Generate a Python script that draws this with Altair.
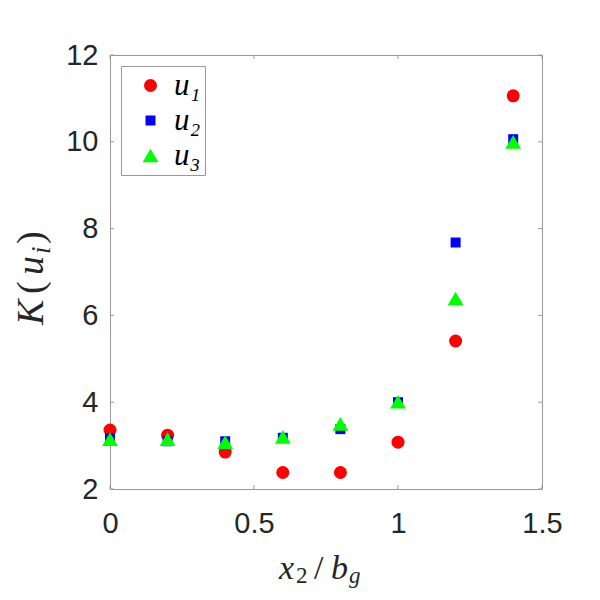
import altair as alt
import pandas as pd

# ---- data ----
x_vals = [0.0, 0.2, 0.4, 0.6, 0.8, 1.0, 1.2, 1.4]
u1 = [3.36, 3.24, 2.85, 2.38, 2.38, 3.08, 5.41, 11.06]
u2 = [3.17, 3.10, 3.10, 3.18, 3.38, 4.00, 7.68, 10.06]
u3 = [3.15, 3.15, 3.08, 3.20, 3.50, 4.01, 6.39, 10.00]
series_names = ["u\u2081", "u\u2082", "u\u2083"]
x_ticks = [0, 0.5, 1, 1.5]
y_ticks = [2, 4, 6, 8, 10, 12]

rows = []
for name, vals in zip(series_names, [u1, u2, u3]):
    for xv, yv in zip(x_vals, vals):
        rows.append({"x": xv, "K": yv, "series": name})
df = pd.DataFrame(rows)

W, H = 432, 434
GRAY = "#999999"
TXT = "#262626"

xs = alt.Scale(domain=[0, 1.5], nice=False, zero=False)
ys = alt.Scale(domain=[2, 12], nice=False, zero=False)

points = alt.Chart(df).mark_point(filled=True, opacity=1, strokeWidth=0).encode(
    x=alt.X("x:Q", scale=xs,
            axis=alt.Axis(values=x_ticks, format="~g", title=None, ticks=False, domain=False, grid=False,
                          labelFont="Liberation Sans", labelFontSize=29, labelColor=TXT,
                          labelPadding=20, labelFlush=False)),
    y=alt.Y("K:Q", scale=ys,
            axis=alt.Axis(values=y_ticks, title=None, ticks=False, domain=False, grid=False,
                          labelFont="Liberation Sans", labelFontSize=29, labelColor=TXT,
                          labelPadding=12, labelFlush=False)),
    color=alt.Color("series:N", title=None,
                    scale=alt.Scale(domain=series_names, range=["#ff0000", "#0000ff", "#00ff00"]),
                    legend=alt.Legend(orient="none", legendX=11, legendY=11,
                                      fillColor="white", strokeColor=GRAY, padding=4,
                                      rowPadding=3, symbolOffset=10, labelOffset=8,
                                      labelFont="Liberation Serif", labelFontStyle="italic",
                                      labelFontSize=31, labelColor="black",
                                      symbolStrokeWidth=0)),
    shape=alt.Shape("series:N", title=None,
                    scale=alt.Scale(domain=series_names, range=["circle", "square", "triangle-up"])),
    size=alt.Size("series:N", title=None,
                  scale=alt.Scale(type="ordinal", domain=series_names, range=[169, 100, 250])),
    order=alt.Order("series:N"),
)

# inward ticks on all four sides
xt = pd.DataFrame({"t": x_ticks})
yt = pd.DataFrame({"t": y_ticks})
tick_b = alt.Chart(xt).mark_rule(color=GRAY, strokeWidth=1).encode(
    x=alt.X("t:Q", scale=xs), y=alt.value(H), y2=alt.value(H - 4))
tick_t = alt.Chart(xt).mark_rule(color=GRAY, strokeWidth=1).encode(
    x=alt.X("t:Q", scale=xs), y=alt.value(0), y2=alt.value(4))
tick_l = alt.Chart(yt).mark_rule(color=GRAY, strokeWidth=1).encode(
    y=alt.Y("t:Q", scale=ys), x=alt.value(0), x2=alt.value(4))
tick_r = alt.Chart(yt).mark_rule(color=GRAY, strokeWidth=1).encode(
    y=alt.Y("t:Q", scale=ys), x=alt.value(W), x2=alt.value(W - 4))

# axis titles built from pieces (LaTeX-like with subscripts)
OX, OY = 110, 55  # page position of plot origin

def piece(txt, px, py, size, italic=True, angle=0):
    kw = dict(font="Liberation Serif", fontSize=size, color=TXT,
              align="left", baseline="alphabetic")
    if italic:
        kw["fontStyle"] = "italic"
    if angle:
        kw["angle"] = angle
    return alt.Chart(pd.DataFrame({"s": [txt]})).mark_text(**kw).encode(
        x=alt.value(px - OX), y=alt.value(py - OY), text="s:N")

xtitle = [
    piece("x", 279, 579, 34),
    piece("2", 296, 583, 23, italic=False),
    piece("/", 314, 579, 34, italic=False),
    piece("b", 331, 579, 34),
    piece("g", 349, 583, 23),
]
ytitle = [
    piece("K", 43, 325, 38, angle=270),
    piece("(", 43, 294, 38, italic=False, angle=270),
    piece("u", 43, 275, 38, angle=270),
    piece("i", 50, 254, 27, angle=270),
    piece(")", 43, 244, 38, italic=False, angle=270),
]

chart = alt.layer(tick_b, tick_t, tick_l, tick_r, points, *xtitle, *ytitle).properties(
    width=W, height=H,
    autosize=alt.AutoSizeParams(type="none"),
    padding={"left": 102, "top": 47, "right": 40, "bottom": 100},
    background="white",
).configure_view(stroke=GRAY, strokeWidth=1).configure_text(limit=0)

chart.save("out.html", embed_options={"renderer": "svg", "actions": False})
